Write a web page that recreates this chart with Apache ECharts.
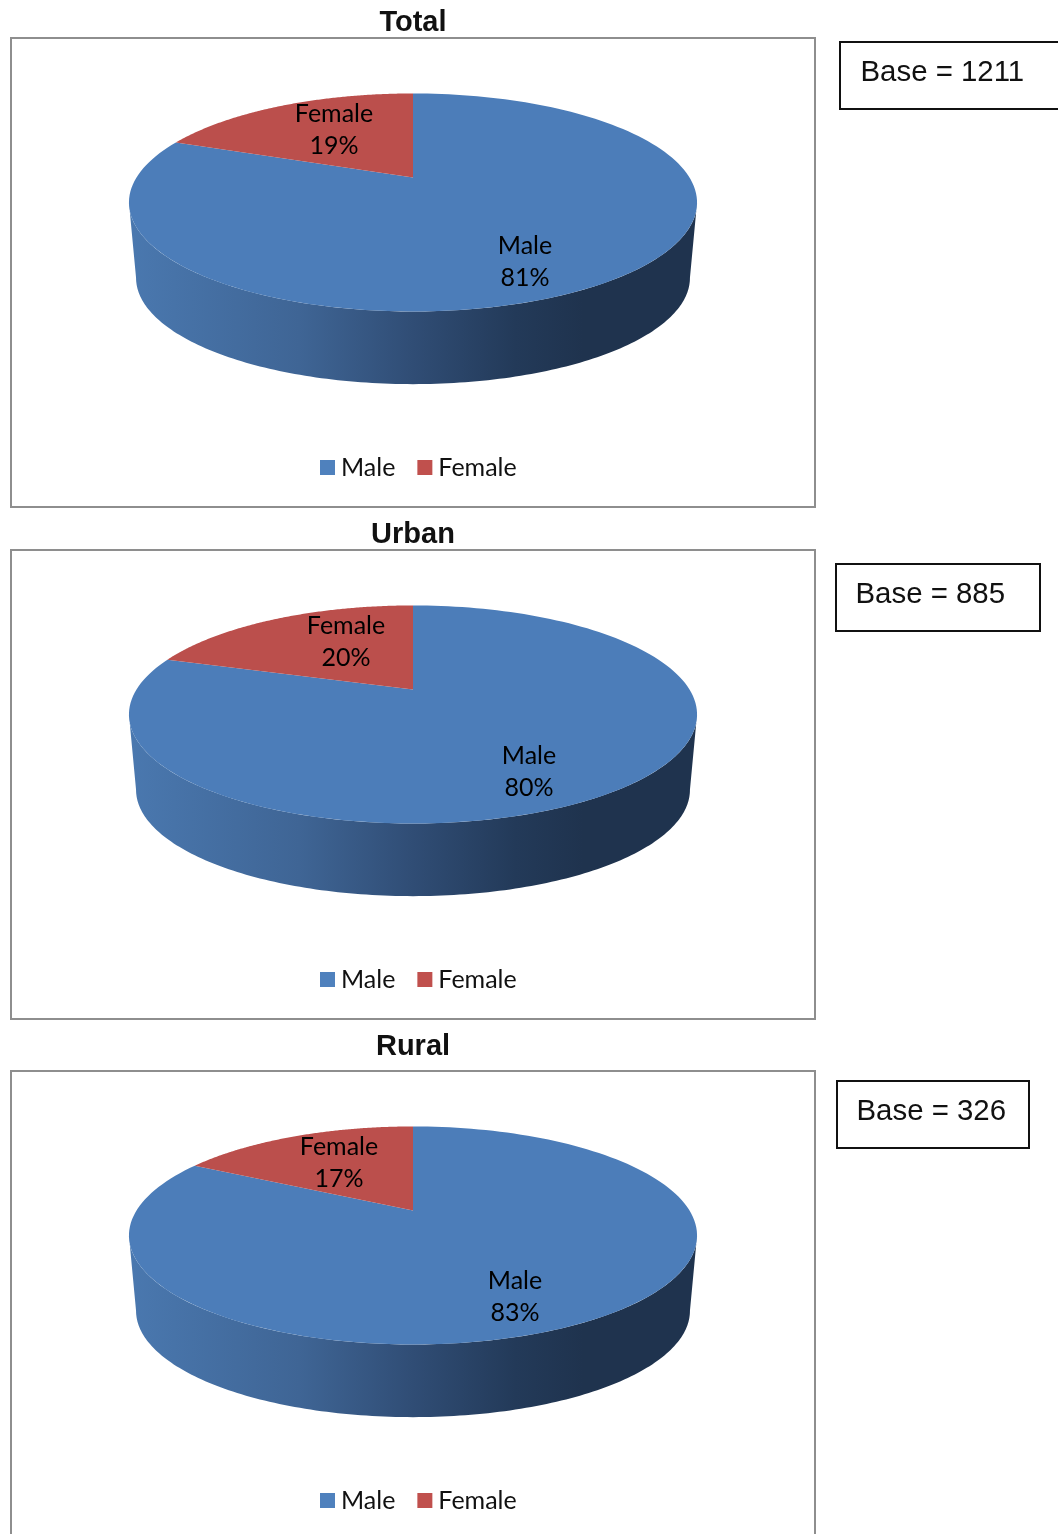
<!DOCTYPE html>
<html>
<head>
<meta charset="utf-8">
<style>html,body{margin:0;padding:0;background:#fff;overflow:hidden}#main{width:1058px;height:1534px}</style>
<script src="https://cdn.jsdelivr.net/npm/echarts@6/dist/echarts.min.js"></script>
</head>
<body>
<div id="main"></div>
<script>
// Gender split of respondents: total, urban and rural
const panelTitles = ['Total', 'Urban', 'Rural'];
const categories = ['Male', 'Female'];
const maleShares = [81, 80, 83];
const femaleShares = [19, 20, 17];
const baseCounts = [1211, 885, 326];

// Page layout of each panel
const panelBoxes = [
  { x: 11, y: 38, w: 804, h: 469, titleTop: 8 },
  { x: 11, y: 550, w: 804, h: 469, titleTop: 520 },
  { x: 11, y: 1071, w: 804, h: 480, titleTop: 1032 }
];
const baseBoxes = [
  { x: 840, y: 42, w: 224, h: 67, tx: 860.5 },
  { x: 836, y: 564, w: 204, h: 67, tx: 855.5 },
  { x: 837, y: 1081, w: 192, h: 67, tx: 856.5 }
];
const pieCentres = [[413, 177.5], [413, 689.5], [413, 1210.5]];
const maleLabelAt = [[525, 262], [529, 772], [515, 1297]];
const femaleLabelAt = [[334, 130], [346, 642], [339, 1163]];

// Perspective disc: a slice angle is measured clockwise from 12 o'clock
const DISC = { r: 276.5, s: 103.3, k: 0.229, depth: 76, shrink: 0.975 };
function discPoint(centre, theta, scale, dy) {
  const u = Math.sin(theta), v = Math.cos(theta), w = 1 + DISC.k * v;
  return [
    centre[0] + scale * DISC.r * u / w,
    centre[1] + dy - scale * DISC.s * v / w
  ];
}
function arc(centre, from, to, scale, dy) {
  const steps = 160, pts = [];
  for (let i = 0; i <= steps; i++) {
    pts.push(discPoint(centre, from + (to - from) * i / steps, scale, dy));
  }
  return pts;
}
const TAU = Math.PI * 2;

function wallGradient() {
  return {
    type: 'linear', global: true, x: 129, y: 0, x2: 697, y2: 0,
    colorStops: [
      { offset: 0, color: '#4a78af' },
      { offset: 0.3, color: '#3f6595' },
      { offset: 0.5, color: '#304d75' },
      { offset: 0.68, color: '#233a59' },
      { offset: 0.8, color: '#1f334e' },
      { offset: 1, color: '#1f334e' }
    ]
  };
}

function sliceLabel(name, pct, at) {
  return {
    type: 'text', z2: 50,
    style: {
      text: name + '\n' + pct + '%',
      x: at[0], y: at[1],
      align: 'center', verticalAlign: 'middle',
      font: '25px Lato', lineHeight: 32, fill: '#000'
    }
  };
}

function renderMale(params, api) {
  const p = api.value(0), share = api.value(1);
  const c = pieCentres[p];
  const end = share / 100 * TAU;
  // Visible wall runs between the two tangent points of the projected disc
  const tangent = Math.acos(-DISC.k);
  const wallEnd = Math.min(end, TAU - tangent);
  const upper = arc(c, tangent, wallEnd, 1, 0);
  const lower = arc(c, tangent, wallEnd, DISC.shrink, DISC.depth).reverse();
  const top = [[c[0], c[1]]].concat(arc(c, 0, end, 1, 0));
  return {
    type: 'group',
    children: [
      { type: 'polygon', shape: { points: upper.concat(lower) }, style: { fill: wallGradient() }, z2: 1 },
      { type: 'polygon', shape: { points: top }, style: { fill: '#4c7db9' }, z2: 2 },
      sliceLabel('Male', share, maleLabelAt[p])
    ]
  };
}

function renderFemale(params, api) {
  const p = api.value(0), share = api.value(1);
  const c = pieCentres[p];
  const top = [[c[0], c[1]]].concat(arc(c, -share / 100 * TAU, 0, 1, 0));
  return {
    type: 'group',
    children: [
      { type: 'polygon', shape: { points: top }, style: { fill: '#bb4f4c' }, z2: 3 },
      sliceLabel('Female', share, femaleLabelAt[p])
    ]
  };
}

const series = [];
panelTitles.forEach(function (_, i) {
  series.push({
    type: 'custom', name: categories[0], coordinateSystem: 'none',
    itemStyle: { color: '#4f81bd' }, silent: true,
    renderItem: renderMale, data: [[i, maleShares[i]]]
  });
  series.push({
    type: 'custom', name: categories[1], coordinateSystem: 'none',
    itemStyle: { color: '#c0504d' }, silent: true,
    renderItem: renderFemale, data: [[i, femaleShares[i]]]
  });
});

const frames = panelBoxes.map(function (b) {
  return {
    type: 'rect', z: -1,
    shape: { x: b.x, y: b.y, width: b.w, height: b.h },
    style: { fill: '#fff', stroke: '#8e8e8e', lineWidth: 2 }
  };
});
const baseShapes = [];
baseBoxes.forEach(function (b, i) {
  baseShapes.push({
    type: 'rect', z: -1,
    shape: { x: b.x, y: b.y, width: b.w, height: b.h },
    style: { fill: '#fff', stroke: '#111', lineWidth: 2 }
  });
  baseShapes.push({
    type: 'text', z: 1,
    style: {
      text: 'Base = ' + baseCounts[i],
      x: b.tx, y: b.y + 31,
      verticalAlign: 'middle',
      font: '29.4px "Liberation Sans"', fill: '#111'
    }
  });
});

const chart = echarts.init(document.getElementById('main'), null, { renderer: 'canvas' });
chart.setOption({
  animation: false,
  backgroundColor: '#fff',
  title: panelTitles.map(function (t, i) {
    return {
      text: t, left: 413, top: panelBoxes[i].titleTop, padding: 0,
      textAlign: 'center',
      textStyle: { fontFamily: 'Liberation Sans', fontWeight: 'bold', fontSize: 29, color: '#111' }
    };
  }),
  legend: panelBoxes.map(function (b) {
    return {
      data: categories, left: 320, top: b.y + 417, padding: 0,
      orient: 'horizontal', icon: 'rect',
      itemWidth: 15, itemHeight: 15, itemGap: 22, selectedMode: false,
      textStyle: { fontFamily: 'Lato', fontSize: 25, color: '#111', padding: [0, 0, 0, 1] }
    };
  }),
  graphic: frames.concat(baseShapes),
  series: series
});
</script>
</body>
</html>
